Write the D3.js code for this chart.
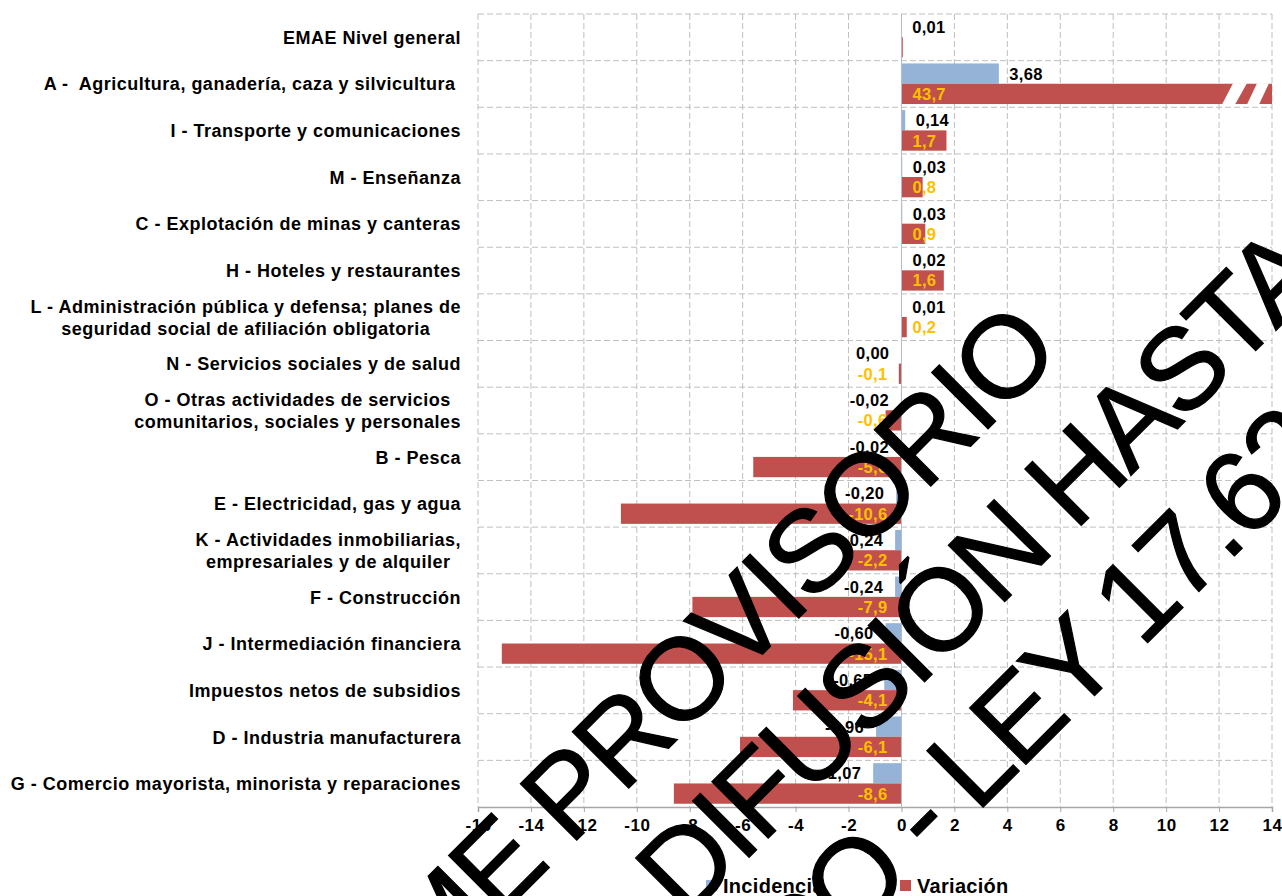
<!DOCTYPE html>
<html>
<head>
<meta charset="utf-8">
<script src="https://cdnjs.cloudflare.com/ajax/libs/d3/7.8.5/d3.min.js"></script>
<style>
  body { margin: 0; background: #fff; }
  svg text { font-family: "Liberation Sans", Arial, sans-serif; }
  .cat { font-weight: bold; font-size: 18px; letter-spacing: 0.5px; white-space: pre; fill: #000; }
  .tick-label { font-weight: bold; font-size: 17px; letter-spacing: 0.5px; }
  .lbl-inc { font-weight: bold; font-size: 16.5px; letter-spacing: 0.3px; fill: #000; }
  .lbl-var { font-weight: bold; font-size: 16.5px; letter-spacing: 0.3px; fill: #FFC000; }
  .legend text { font-weight: bold; font-size: 20px; letter-spacing: 0.3px; }
  .wm { font-size: 116px; letter-spacing: -4px; fill: #000; stroke: #000; stroke-width: 1.2px; white-space: pre; }
</style>
</head>
<body>
<div id="chart"></div>
<script>
// data
var categorias = [
  "EMAE Nivel general",
  "A -  Agricultura, ganadería, caza y silvicultura ",
  "I - Transporte y comunicaciones",
  "M - Enseñanza",
  "C - Explotación de minas y canteras",
  "H - Hoteles y restaurantes",
  "L - Administración pública y defensa; planes de\nseguridad social de afiliación obligatoria",
  "N - Servicios sociales y de salud",
  "O - Otras actividades de servicios\ncomunitarios, sociales y personales",
  "B - Pesca",
  "E - Electricidad, gas y agua",
  "K - Actividades inmobiliarias,\nempresariales y de alquiler",
  "F - Construcción",
  "J - Intermediación financiera",
  "Impuestos netos de subsidios",
  "D - Industria manufacturera",
  "G - Comercio mayorista, minorista y reparaciones"
];
var incidencia = [0.01, 3.68, 0.14, 0.03, 0.03, 0.02, 0.01, -0.004, -0.02, -0.02, -0.20, -0.24, -0.24, -0.60, -0.65, -0.96, -1.07];
var variacion = [0.05, 43.7, 1.7, 0.8, 0.9, 1.6, 0.2, -0.1, -0.6, -5.6, -10.6, -2.2, -7.9, -15.1, -4.1, -6.1, -8.6];
// EMAE has no visible label for its variation
var mostrarVariacion = [false, true, true, true, true, true, true, true, true, true, true, true, true, true, true, true, true];
var xTicks = [-16, -14, -12, -10, -8, -6, -4, -2, 0, 2, 4, 6, 8, 10, 12, 14];
var series = ["Incidencia", "Variación"];
var colores = ["#95B3D7", "#C0504D"];
var marcaAgua = ["INFORME PROVISORIO", "DIFUSIÓN HASTA", "SECRETO ESTADÍSTICO - LEY 17.622"];

function coma(v, dec) {
  if (Math.abs(v) < 0.5 * Math.pow(10, -dec)) v = 0;
  return v.toFixed(dec).replace(".", ",");
}

function BarChart(_parentElement) {
  this.parentElement = _parentElement;
  this.initVis();
}

BarChart.prototype.initVis = function () {
  var vis = this;
  vis.W = 1282;
  vis.H = 896;
  vis.left = 478;
  vis.right = 1272;
  vis.top = 14;
  vis.bottom = 807;

  vis.svg = d3.select("#" + vis.parentElement).append("svg")
    .attr("width", vis.W)
    .attr("height", vis.H);

  vis.x = d3.scaleLinear()
    .domain([xTicks[0], xTicks[xTicks.length - 1]])
    .range([vis.left, vis.right]);

  vis.y = d3.scaleBand()
    .domain(d3.range(categorias.length))
    .range([vis.top, vis.bottom])
    .paddingInner(0)
    .paddingOuter(0);

  vis.data = categorias.map(function (c, i) {
    return { cat: c, inc: incidencia[i], vari: variacion[i], show: mostrarVariacion[i], i: i };
  });

  vis.drawGrid();
  vis.updateVis();
  vis.drawLabels();
  vis.drawLegend();
  vis.drawWatermark();
};

BarChart.prototype.drawGrid = function () {
  var vis = this;
  var g = vis.svg.append("g").attr("class", "grid");

  g.selectAll(".vgrid")
    .data(xTicks.filter(function (d) { return d !== 0; }))
    .enter().append("line")
    .attr("x1", function (d) { return vis.x(d); })
    .attr("x2", function (d) { return vis.x(d); })
    .attr("y1", vis.top)
    .attr("y2", vis.bottom)
    .attr("stroke", "#BFBFBF")
    .attr("stroke-dasharray", "6,3");

  g.selectAll(".hgrid")
    .data(d3.range(categorias.length))
    .enter().append("line")
    .attr("x1", vis.left)
    .attr("x2", vis.right)
    .attr("y1", function (d) { return vis.y(d); })
    .attr("y2", function (d) { return vis.y(d); })
    .attr("stroke", "#BFBFBF")
    .attr("stroke-dasharray", "6,3");
};

BarChart.prototype.updateVis = function () {
  var vis = this;
  var bw = vis.y.bandwidth();
  var off = bw * 0.06;
  var bh = bw * 0.435;
  var xmax = vis.x.domain()[1];

  function clip(v) { return Math.min(v, xmax); }

  vis.svg.append("g").selectAll("rect")
    .data(vis.data)
    .enter().append("rect")
    .attr("x", function (d) { return vis.x(Math.min(0, d.inc)); })
    .attr("width", function (d) { return Math.abs(vis.x(d.inc) - vis.x(0)); })
    .attr("y", function (d) { return vis.y(d.i) + off; })
    .attr("height", bh)
    .attr("fill", colores[0]);

  vis.svg.append("g").selectAll("rect")
    .data(vis.data)
    .enter().append("rect")
    .attr("x", function (d) { return vis.x(Math.min(0, d.vari)); })
    .attr("width", function (d) { return Math.abs(vis.x(clip(d.vari)) - vis.x(0)); })
    .attr("y", function (d) { return vis.y(d.i) + off + bh; })
    .attr("height", bh)
    .attr("fill", colores[1]);

  // axis break on bars running past the axis end
  var xe = vis.x(xmax);
  var cortes = vis.svg.append("g");
  vis.data.filter(function (d) { return d.vari > xmax; }).forEach(function (d) {
    var yt = vis.y(d.i) + off + bh - 0.5;
    var yb = yt + bh + 1;
    [[-50, -37, -39, -25], [-25, -13, -15, -3]].forEach(function (c) {
      cortes.append("polygon")
        .attr("points", [
          [xe + c[0], yb], [xe + c[1], yb], [xe + c[3], yt], [xe + c[2], yt]
        ].map(function (p) { return p.join(","); }).join(" "))
        .attr("fill", "#fff");
    });
  });

  // zero line
  vis.svg.append("line")
    .attr("x1", vis.x(0)).attr("x2", vis.x(0))
    .attr("y1", vis.top).attr("y2", vis.bottom)
    .attr("stroke", "#B4BCC8")
    .attr("stroke-width", 1);

  // x axis
  vis.xAxis = d3.axisBottom(vis.x)
    .tickValues(xTicks)
    .tickSize(5)
    .tickPadding(7)
    .tickFormat(function (d) { return String(d); });

  var ax = vis.svg.append("g")
    .attr("transform", "translate(0," + vis.bottom + ")")
    .call(vis.xAxis);
  ax.select(".domain").attr("stroke", "#A6A6A6").attr("stroke-width", 1.5);
  ax.selectAll(".tick line").attr("stroke", "#A6A6A6");
  ax.selectAll(".tick text")
    .attr("class", "tick-label")
    .attr("fill", "#000")
    .style("font-family", "'Liberation Sans', Arial, sans-serif");

  // value labels
  vis.svg.append("g").selectAll("text")
    .data(vis.data)
    .enter().append("text")
    .attr("class", "lbl-inc")
    .attr("x", function (d) { return d.inc >= 0 ? vis.x(d.inc) + 10.5 : vis.x(d.inc) - 12; })
    .attr("y", function (d) { return vis.y(d.i) + off + bh / 2 + 6; })
    .attr("text-anchor", function (d) { return d.inc >= 0 ? "start" : "end"; })
    .text(function (d) { return coma(d.inc, 2); });

  vis.svg.append("g").selectAll("text")
    .data(vis.data.filter(function (d) { return d.show; }))
    .enter().append("text")
    .attr("class", "lbl-var")
    .attr("x", function (d) { return d.vari >= 0 ? vis.x(0) + 11 : vis.x(0) - 14; })
    .attr("y", function (d) { return vis.y(d.i) + off + bh * 1.5 + 6; })
    .attr("text-anchor", function (d) { return d.vari >= 0 ? "start" : "end"; })
    .text(function (d) { return coma(d.vari, 1); });
};

BarChart.prototype.drawLabels = function () {
  var vis = this;
  var xr = 461;
  var lh = 22;
  var g = vis.svg.append("g");
  vis.data.forEach(function (d) {
    var lines = d.cat.split("\n");
    var cy = vis.y(d.i) + vis.y.bandwidth() / 2;
    var texts = lines.map(function (ln, k) {
      return g.append("text")
        .attr("class", "cat")
        .attr("y", cy + (k - (lines.length - 1) / 2) * lh + 6.5)
        .text(ln);
    });
    var maxW = d3.max(texts, function (t) { return t.node().getComputedTextLength(); });
    texts.forEach(function (t) {
      t.attr("x", xr - maxW / 2).attr("text-anchor", "middle");
    });
  });
};

BarChart.prototype.drawLegend = function () {
  var vis = this;
  var lg = vis.svg.append("g").attr("class", "legend");
  var items = lg.selectAll("g")
    .data(series)
    .enter().append("g")
    .attr("transform", function (d, i) { return "translate(" + (706 + i * 194) + ",880)"; });
  items.append("rect")
    .attr("width", 11).attr("height", 11)
    .attr("fill", function (d, i) { return colores[i]; });
  items.append("text")
    .attr("x", 17).attr("y", 13)
    .text(function (d) { return d; });
};

BarChart.prototype.drawWatermark = function () {
  var vis = this;
  var g = vis.svg.append("g").attr("transform", "rotate(-45)");
  // positions in the rotated frame
  var pos = [
    { u: 499, v: 1002, anchor: "end" },
    { u: -167, v: 1136, anchor: "start" },
    { u: 679, v: 1266, anchor: "end" }
  ];
  marcaAgua.forEach(function (t, i) {
    g.append("text")
      .attr("class", "wm")
      .attr("x", pos[i].u)
      .attr("y", pos[i].v)
      .attr("text-anchor", pos[i].anchor)
      .text(t);
  });
};

new BarChart("chart");
</script>
</body>
</html>
